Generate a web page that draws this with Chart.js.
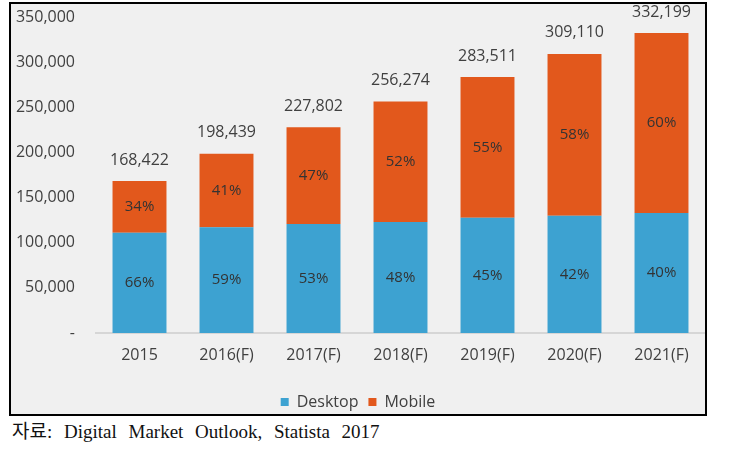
<!DOCTYPE html>
<html>
<head>
<meta charset="utf-8">
<script src="https://cdn.jsdelivr.net/npm/chart.js@4"></script>
<style>
  body { margin: 0; background: #fff; width: 752px; height: 460px; position: relative; overflow: hidden; }
  #panel { position: absolute; left: 9px; top: 2px; width: 694px; height: 410px;
           border: 2px solid #000; background: #f0f0f0; overflow: hidden; }
  #source { position: absolute; left: 12px; top: 416px; font-family: "Liberation Serif", "Noto Sans CJK KR", serif;
            font-size: 19px; color: #111; word-spacing: 7px; white-space: nowrap; }
</style>
</head>
<body>
<div id="panel"><canvas id="c" width="694" height="410"></canvas></div>
<div id="source">자료: Digital Market Outlook, Statista 2017</div>
<script>
const years      = ["2015", "2016(F)", "2017(F)", "2018(F)", "2019(F)", "2020(F)", "2021(F)"];
const desktop    = [111159, 117079, 120735, 123012, 127580, 129826, 132880];
const mobile     = [57263, 81360, 107067, 133262, 155931, 179284, 199319];
const desktopPct = ["66%", "59%", "53%", "48%", "45%", "42%", "40%"];
const mobilePct  = ["34%", "41%", "47%", "52%", "55%", "58%", "60%"];
const totals     = ["168,422", "198,439", "227,802", "256,274", "283,511", "309,110", "332,199"];
const yTicks     = [0, 50000, 100000, 150000, 200000, 250000, 300000, 350000];

const FONT = '"Open Sans", "Noto Sans", sans-serif';

// percent labels in each segment, totals on top
const labelPlugin = {
  id: "labels",
  afterDatasetsDraw(chart) {
    const ctx = chart.ctx;
    ctx.save();
    ctx.textAlign = "center";
    ctx.textBaseline = "middle";
    ctx.font = "15px " + FONT;
    ctx.fillStyle = "#333";
    const pcts = [desktopPct, mobilePct];
    chart.data.datasets.forEach((ds, di) => {
      chart.getDatasetMeta(di).data.forEach((bar, i) => {
        ctx.fillText(pcts[di][i], bar.x, (bar.y + bar.base) / 2);
      });
    });
    ctx.font = "16px " + FONT;
    ctx.fillStyle = "#404040";
    chart.getDatasetMeta(1).data.forEach((bar, i) => {
      ctx.fillText(totals[i], bar.x, bar.y - 21);
    });
    ctx.restore();
  }
};

new Chart(document.getElementById("c"), {
  type: "bar",
  data: {
    labels: years,
    datasets: [
      { label: "Desktop", data: desktop, backgroundColor: "#3da2d1" },
      { label: "Mobile",  data: mobile,  backgroundColor: "#e2581c" }
    ]
  },
  options: {
    responsive: false,
    animation: false,
    datasets: { bar: { categoryPercentage: 1, barPercentage: 0.62 } },
    layout: { padding: { top: 13, right: 0, left: 0, bottom: -6 } },
    plugins: {
      legend: {
        position: "bottom",
        labels: { boxWidth: 8, boxHeight: 8, padding: 10, color: "#404040", font: { family: FONT, size: 16 } }
      },
      tooltip: { enabled: false }
    },
    scales: {
      x: {
        stacked: true,
        grid: { display: false, drawTicks: false },
        border: { display: true, color: "#d6d6d6", width: 2 },
        ticks: { color: "#404040", padding: 13, font: { family: FONT, size: 16 } },
        afterFit: s => { s.height = 51; }
      },
      y: {
        stacked: true,
        min: 0, max: 350000,
        grid: { display: false, drawTicks: false },
        border: { display: false },
        afterBuildTicks: s => { s.ticks = yTicks.map(v => ({ value: v })); },
        afterFit: s => { s.width = 85; s.paddingTop = 0; s.paddingBottom = 0; },
        ticks: {
          color: "#404040", padding: 21, font: { family: FONT, size: 16 },
          callback: v => v === 0 ? "-" : v.toLocaleString("en-US")
        }
      }
    }
  },
  plugins: [labelPlugin]
});
</script>
</body>
</html>
